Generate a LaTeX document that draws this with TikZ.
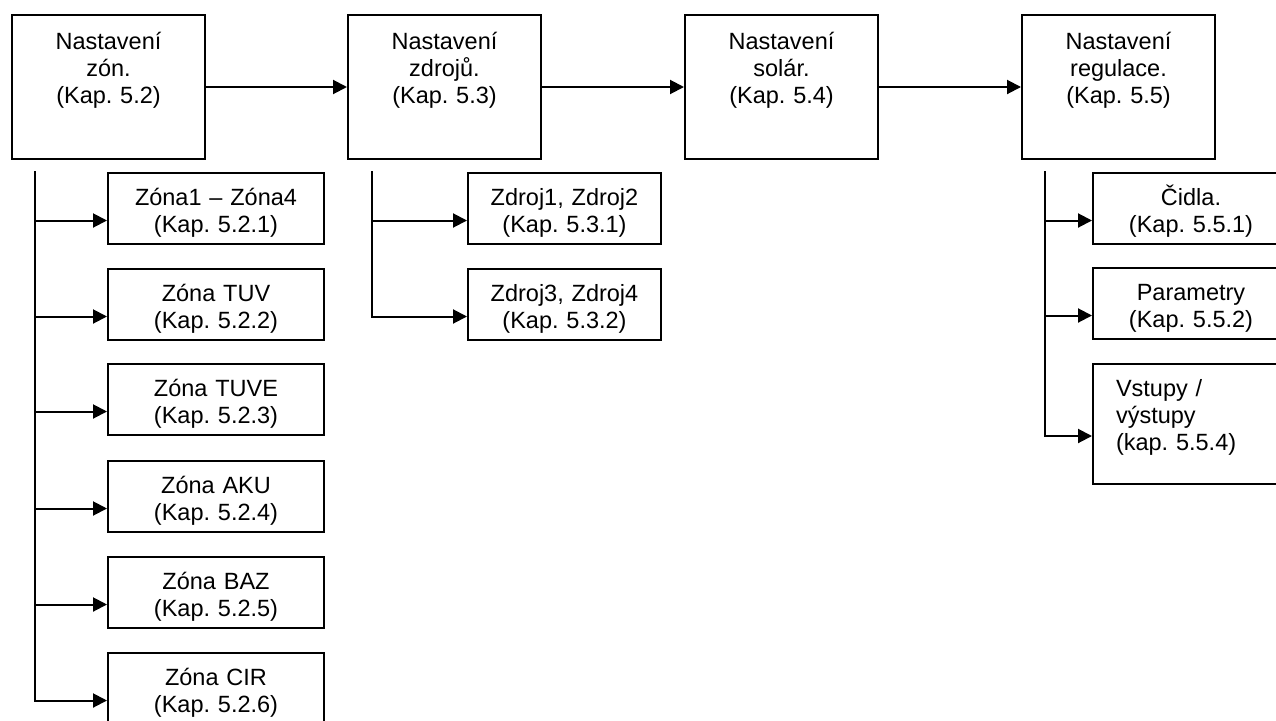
\documentclass[tikz,border=0pt]{standalone}
\usepackage{fontspec}
\setmainfont{Liberation Sans}
\usetikzlibrary{arrows.meta}
\frenchspacing

\tikzset{
    box/.style={draw, line width=2pt, anchor=north west, font=\fontsize{23.5}{27}\selectfont, inner xsep=5pt, text height=17pt},
    hlavni/.style={box, align=center, text width=183pt, inner ysep=17pt, text depth=93pt},
    podbox/.style={box, align=center, inner ysep=15pt, text depth=24pt},
    sipka/.style={line width=2pt, -{Triangle[length=14pt,width=14pt]}}
}

\begin{document}
\begin{tikzpicture}[x=1pt, y=-1pt]
    \useasboundingbox (0,0) rectangle (1276,720);
    \clip (0,0) rectangle (1276,720);
    % hlavni bloky
    \node(zony)[hlavni] at (11,14) {Nastavení\\zón.\\(Kap. 5.2)};
    \node(zdroje)[hlavni] at (347,14) {Nastavení\\zdrojů.\\(Kap. 5.3)};
    \node(solar)[hlavni] at (684,14) {Nastavení\\solár.\\(Kap. 5.4)};
    \node(regulace)[hlavni] at (1021,14) {Nastavení\\regulace.\\(Kap. 5.5)};
    \draw[sipka] (zony) -- (zdroje);
    \draw[sipka] (zdroje) -- (solar);
    \draw[sipka] (solar) -- (regulace);
    % zony
    \node(z1)[podbox, text width=206pt] at (107,172) {Zóna1 – Zóna4\\(Kap. 5.2.1)};
    \node(z2)[podbox, text width=206pt] at (107,268) {Zóna TUV\\(Kap. 5.2.2)};
    \node(z3)[podbox, text width=206pt] at (107,363) {Zóna TUVE\\(Kap. 5.2.3)};
    \node(z4)[podbox, text width=206pt] at (107,460) {Zóna AKU\\(Kap. 5.2.4)};
    \node(z5)[podbox, text width=206pt] at (107,556) {Zóna BAZ\\(Kap. 5.2.5)};
    \node(z6)[podbox, text width=206pt] at (107,652) {Zóna CIR\\(Kap. 5.2.6)};
    \coordinate(zkmen) at (35,171);
    \draw[sipka] (zkmen) |- ([yshift=-12pt]z1.west);
    \draw[sipka] (zkmen) |- ([yshift=-12pt]z2.west);
    \draw[sipka] (zkmen) |- ([yshift=-12pt]z3.west);
    \draw[sipka] (zkmen) |- ([yshift=-12pt]z4.west);
    \draw[sipka] (zkmen) |- ([yshift=-12pt]z5.west);
    \draw[sipka] (zkmen) |- ([yshift=-12pt]z6.west);
    % zdroje
    \node(d1)[podbox, text width=183pt] at (467,172) {Zdroj1, Zdroj2\\(Kap. 5.3.1)};
    \node(d2)[podbox, text width=183pt] at (467,268) {Zdroj3, Zdroj4\\(Kap. 5.3.2)};
    \coordinate(dkmen) at (372,171);
    \draw[sipka] (dkmen) |- ([yshift=-12pt]d1.west);
    \draw[sipka] (dkmen) |- ([yshift=-12pt]d2.west);
    % regulace
    \node(cidla)[podbox, text width=186pt] at (1092,172) {Čidla.\\(Kap. 5.5.1)};
    \node(param)[podbox, text width=186pt] at (1092,267) {Parametry\\(Kap. 5.5.2)};
    \node(vstupy)[podbox, align=left, inner xsep=23pt, text width=150pt, text depth=73pt] at (1092,363) {Vstupy /\\výstupy\\(kap. 5.5.4)};
    \coordinate(rkmen) at (1045,171);
    \draw[sipka] (rkmen) |- ([yshift=-12pt]cidla.west);
    \draw[sipka] (rkmen) |- ([yshift=-12pt]param.west);
    \draw[sipka] (rkmen) |- ([yshift=-12pt]vstupy.west);
\end{tikzpicture}
\end{document}
